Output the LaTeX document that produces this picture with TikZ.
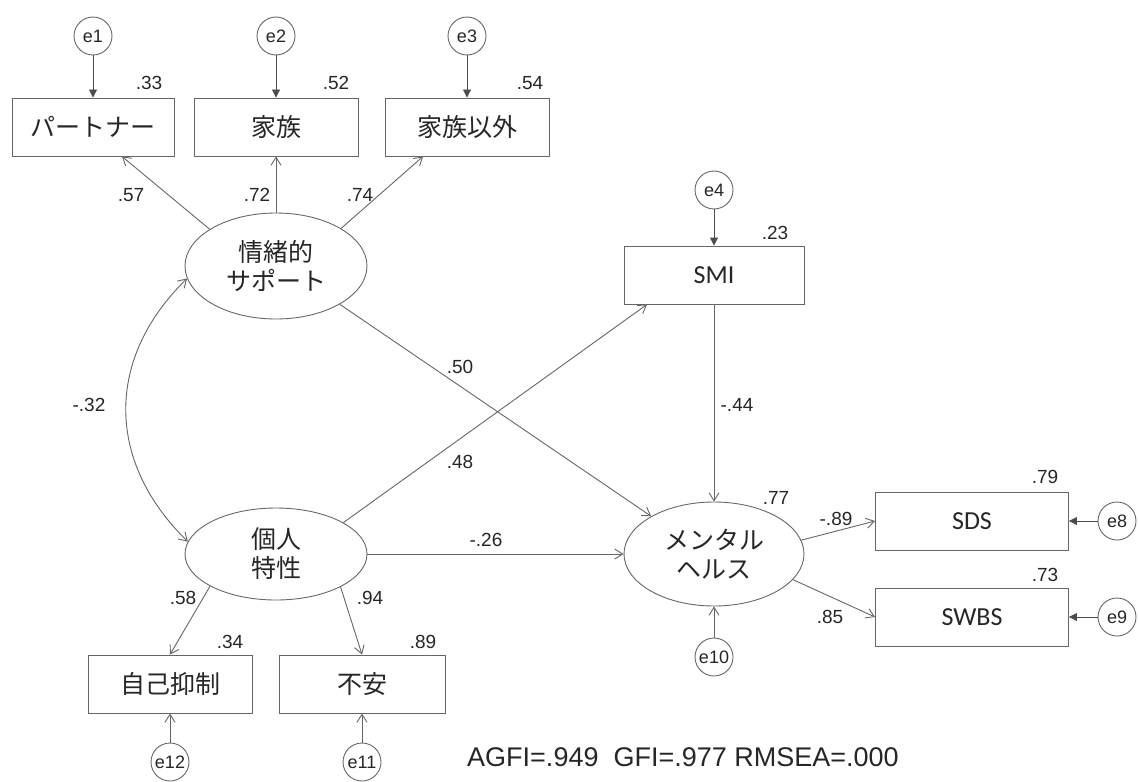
\documentclass[tikz,border=0pt]{standalone}
\usepackage{fontspec}
\setmainfont{Liberation Sans}
\newfontfamily\jpfont{Noto Sans CJK JP}
\newfontfamily\calfont{Carlito}
\usetikzlibrary{shapes.geometric, arrows.meta}
\tikzstyle{obs} = [rectangle, minimum width=164pt, minimum height=58pt, text centered, draw=black!60, line width=0.9pt, font=\jpfont\fontsize{25}{29}\selectfont]
\tikzstyle{latent} = [ellipse, minimum width=182pt, minimum height=106pt, align=center, draw=black!60, line width=0.9pt, font=\jpfont\fontsize{25}{29}\selectfont]
\tikzstyle{err} = [circle, minimum size=38pt, inner sep=0pt, draw=black!60, line width=0.9pt, font=\fontsize{18}{20}\selectfont]
\tikzstyle{coef} = [inner sep=0pt, font=\fontsize{19}{21}\selectfont]
\tikzstyle{arrow} = [draw=black!60, line width=0.9pt, -{Straight Barb[length=8pt, width=10pt]}]
\tikzstyle{errarrow} = [draw=black!70, line width=0.9pt, -{Triangle[length=8pt, width=8pt]}]
\tikzstyle{covarrow} = [draw=black!60, line width=0.9pt, {Straight Barb[length=8pt, width=10pt]}-{Straight Barb[length=8pt, width=10pt]}]

\begin{document}
\begin{tikzpicture}[x=1pt, y=-1pt, text=black!85]
\useasboundingbox (0,0) rectangle (1139,781);

% Indicators of emotional support
\node (partner) [obs, minimum width=162pt] at (93,127) {パートナー};
\node (family) [obs] at (276,127) {家族};
\node (nonfam) [obs] at (467,127) {家族以外};

\node (e1) [err] at (93,36) {e1};
\node (e2) [err] at (276,36) {e2};
\node (e3) [err] at (467,36) {e3};

% Latent variables
\node (emo) [latent] at (276,266) {情緒的\\サポート};
\node (pers) [latent, minimum height=92pt] at (276,554) {個人\\特性};
\node (mental) [latent, minimum width=180pt, minimum height=104pt] at (714,554) {メンタル\\ヘルス};

% SMI
\node (smi) [obs, minimum width=180pt, font=\calfont\fontsize{26}{30}\selectfont] at (714,275) {SMI};
\node (e4) [err] at (714,190) {e4};

% Outcomes
\node (sds) [obs, minimum width=193pt, font=\calfont\fontsize{26}{30}\selectfont] at (972,521) {SDS};
\node (swbs) [obs, minimum width=193pt, font=\calfont\fontsize{26}{30}\selectfont] at (972,617) {SWBS};
\node (e8) [err] at (1117,521) {e8};
\node (e9) [err] at (1117,617) {e9};
\node (e10) [err] at (714,657) {e10};

% Indicators of personal traits
\node (selfctl) [obs] at (170,684) {自己抑制};
\node (anxiety) [obs, minimum width=166pt] at (362,684) {不安};
\node (e12) [err] at (170,762) {e12};
\node (e11) [err] at (362,762) {e11};

% Error arrows
\draw [errarrow] (e1) -- (partner);
\draw [errarrow] (e2) -- (family);
\draw [errarrow] (e3) -- (nonfam);
\draw [errarrow] (e4) -- (smi);
\draw [errarrow] (e8) -- (sds);
\draw [errarrow] (e9) -- (swbs);
\draw [arrow] (e10) -- (mental);
\draw [arrow] (e11) -- (anxiety);
\draw [arrow] (e12) -- (selfctl);

% Loadings and paths
\draw [arrow] (emo.151) -- ([xshift=29pt]partner.south);
\draw [arrow] (emo) -- (family);
\draw [arrow] (emo.30) -- ([xshift=-44pt]nonfam.south);
\draw [arrow] (emo.-31) -- (mental.149);
\draw [arrow] (pers.25) -- ([xshift=-67pt]smi.south);
\draw [arrow] (pers) -- (mental);
\draw [arrow] (smi) -- (mental);
\draw [arrow] (mental.9) -- (sds.west);
\draw [arrow] (mental.-18) -- (swbs.west);
\draw [arrow] (pers.206) -- (selfctl.north);
\draw [arrow] (pers.333) -- (anxiety.north);

% Covariance
\draw [covarrow] (emo.188) .. controls +(-82,80) and +(-82,-80) .. (pers.172);

% Coefficients
\node (r33) [coef] at (149,83) {.33};
\node (r52) [coef] at (336,83) {.52};
\node (r54) [coef] at (530,83) {.54};
\node (b57) [coef] at (131,195) {.57};
\node (b72) [coef] at (257,195) {.72};
\node (b74) [coef] at (360,195) {.74};
\node (r23) [coef] at (775,233) {.23};
\node (b50) [coef] at (460,367) {.50};
\node (c32) [coef] at (89,405) {-.32};
\node (b44) [coef] at (737,405) {-.44};
\node (b48) [coef] at (460,462) {.48};
\node (r77) [coef] at (776,498) {.77};
\node (b26) [coef] at (486,540) {-.26};
\node (r79) [coef] at (1045,477) {.79};
\node (b89) [coef] at (836,519) {-.89};
\node (r73) [coef] at (1045,575) {.73};
\node (b85) [coef] at (830,617) {.85};
\node (b58) [coef] at (183,598) {.58};
\node (b94) [coef] at (370,598) {.94};
\node (r34) [coef] at (230,642) {.34};
\node (r89) [coef] at (423,642) {.89};

% Fit indices
\node (fit) [anchor=west, inner sep=0pt, font=\fontsize{27}{31}\selectfont] at (467,757) {AGFI=.949\ \ GFI=.977 RMSEA=.000};

\end{tikzpicture}
\end{document}
